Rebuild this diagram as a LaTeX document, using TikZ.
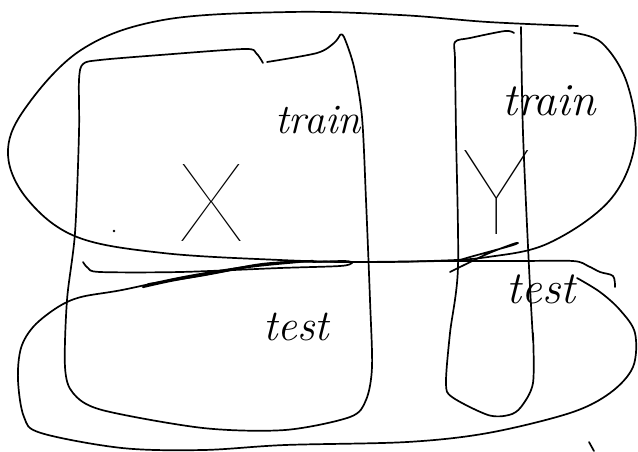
\documentclass[tikz,border=0pt]{standalone}
\usepackage{fontspec}
\newfontfamily\thinfont{Lato Thin}
\begin{document}
\begin{tikzpicture}[x=1pt,y=-1pt,
  ink/.style={line width=1.7pt, line cap=round, line join=round},
  hand/.style={inner sep=0pt, anchor=base, font=\fontsize{42}{46}\selectfont\itshape},
  big/.style={inner sep=0pt, anchor=center, font=\fontsize{110}{115}\selectfont\thinfont}]
\useasboundingbox (0,0) rectangle (638,451);
% top ellipse (train)
\draw[ink] plot[smooth,tension=0.6] coordinates {(578,26) (488,22) (400,15) (290,12) (163,20) (81,50) (24,110) (8,155) (28,200) (77,237) (163,253) (280,260) (360,262) (430,261) (488,257) (549,243) (610,200) (635,143) (627,83) (602,43) (574,33)};
% bottom ellipse (test) with the long horizontal stroke
\draw[ink] plot[smooth,tension=0.55] coordinates {(577,278) (600,292) (620,310) (635,333) (633,367) (610,393) (570,413) (488,433) (407,442) (285,445) (203,450) (122,448) (41,433) (24,417) (18,380) (21,348) (34,326) (58,307) (81,297) (122,290) (183,277) (244,267) (290,262) (360,262) (450,261) (520,261) (573,261) (588,266) (600,272) (613,276) (615,287)};
% bracket loop under the line
\draw[ink] plot[smooth,tension=0.5] coordinates {(83,262) (88,268) (100,272) (180,272) (280,268) (340,266) (352,263) (345,261) (313,262)};
% crossing-out scribbles
\draw[ink,line width=2.2pt] plot[smooth,tension=0.5] coordinates {(143,287) (170,281) (213,273) (263,264) (313,261)};
\draw[ink] plot[smooth,tension=0.5] coordinates {(148,284) (200,276) (250,267) (300,262)};
\draw[ink] plot[smooth,tension=0.5] coordinates {(450,272) (487,254) (513,244) (518,243) (510,246) (470,257) (457,261)};
% X block
\draw[ink] plot[smooth,tension=0.5] coordinates {(263,63) (256,53) (244,49) (160,55) (100,60) (83,64) (79,80) (79,133) (75,233) (67,300) (65,367) (73,393) (102,410) (203,428) (285,430) (350,417) (366,400) (372,367) (370,300) (366,200) (362,117) (354,67) (344,37) (340,35)};
\draw[ink] plot[smooth,tension=0.5] coordinates {(267,62) (317,53) (334,43) (340,35)};
% Y block
\draw[ink] plot[smooth,tension=0.5] coordinates {(514,33) (505,31) (470,38) (455,42) (455,60) (456,133) (458,267) (450,333) (446,383) (452,397) (488,415) (509,415) (521,407) (533,383) (533,333)};
\draw[ink] plot[smooth,tension=0.5] coordinates {(521,27) (523,133) (529,267) (533,340)};
% small marks
\fill (114,231) circle (1.3pt);
\draw[ink] (589,442) -- (594,451);
% texts
\node[hand] (trainX) at (318,133) {train};
\node[hand,font=\fontsize{46}{50}\selectfont\itshape] (trainY) at (549,115) {train};
\node[big] (X) at (212,203) {X};
\node[big,font=\fontsize{120}{125}\selectfont\thinfont] (Y) at (497,192) {Y};
\node[hand,font=\fontsize{44}{48}\selectfont\itshape] (testX) at (296,340) {test};
\node[hand,font=\fontsize{46}{50}\selectfont\itshape] (testY) at (541,303) {test};
\end{tikzpicture}
\end{document}
